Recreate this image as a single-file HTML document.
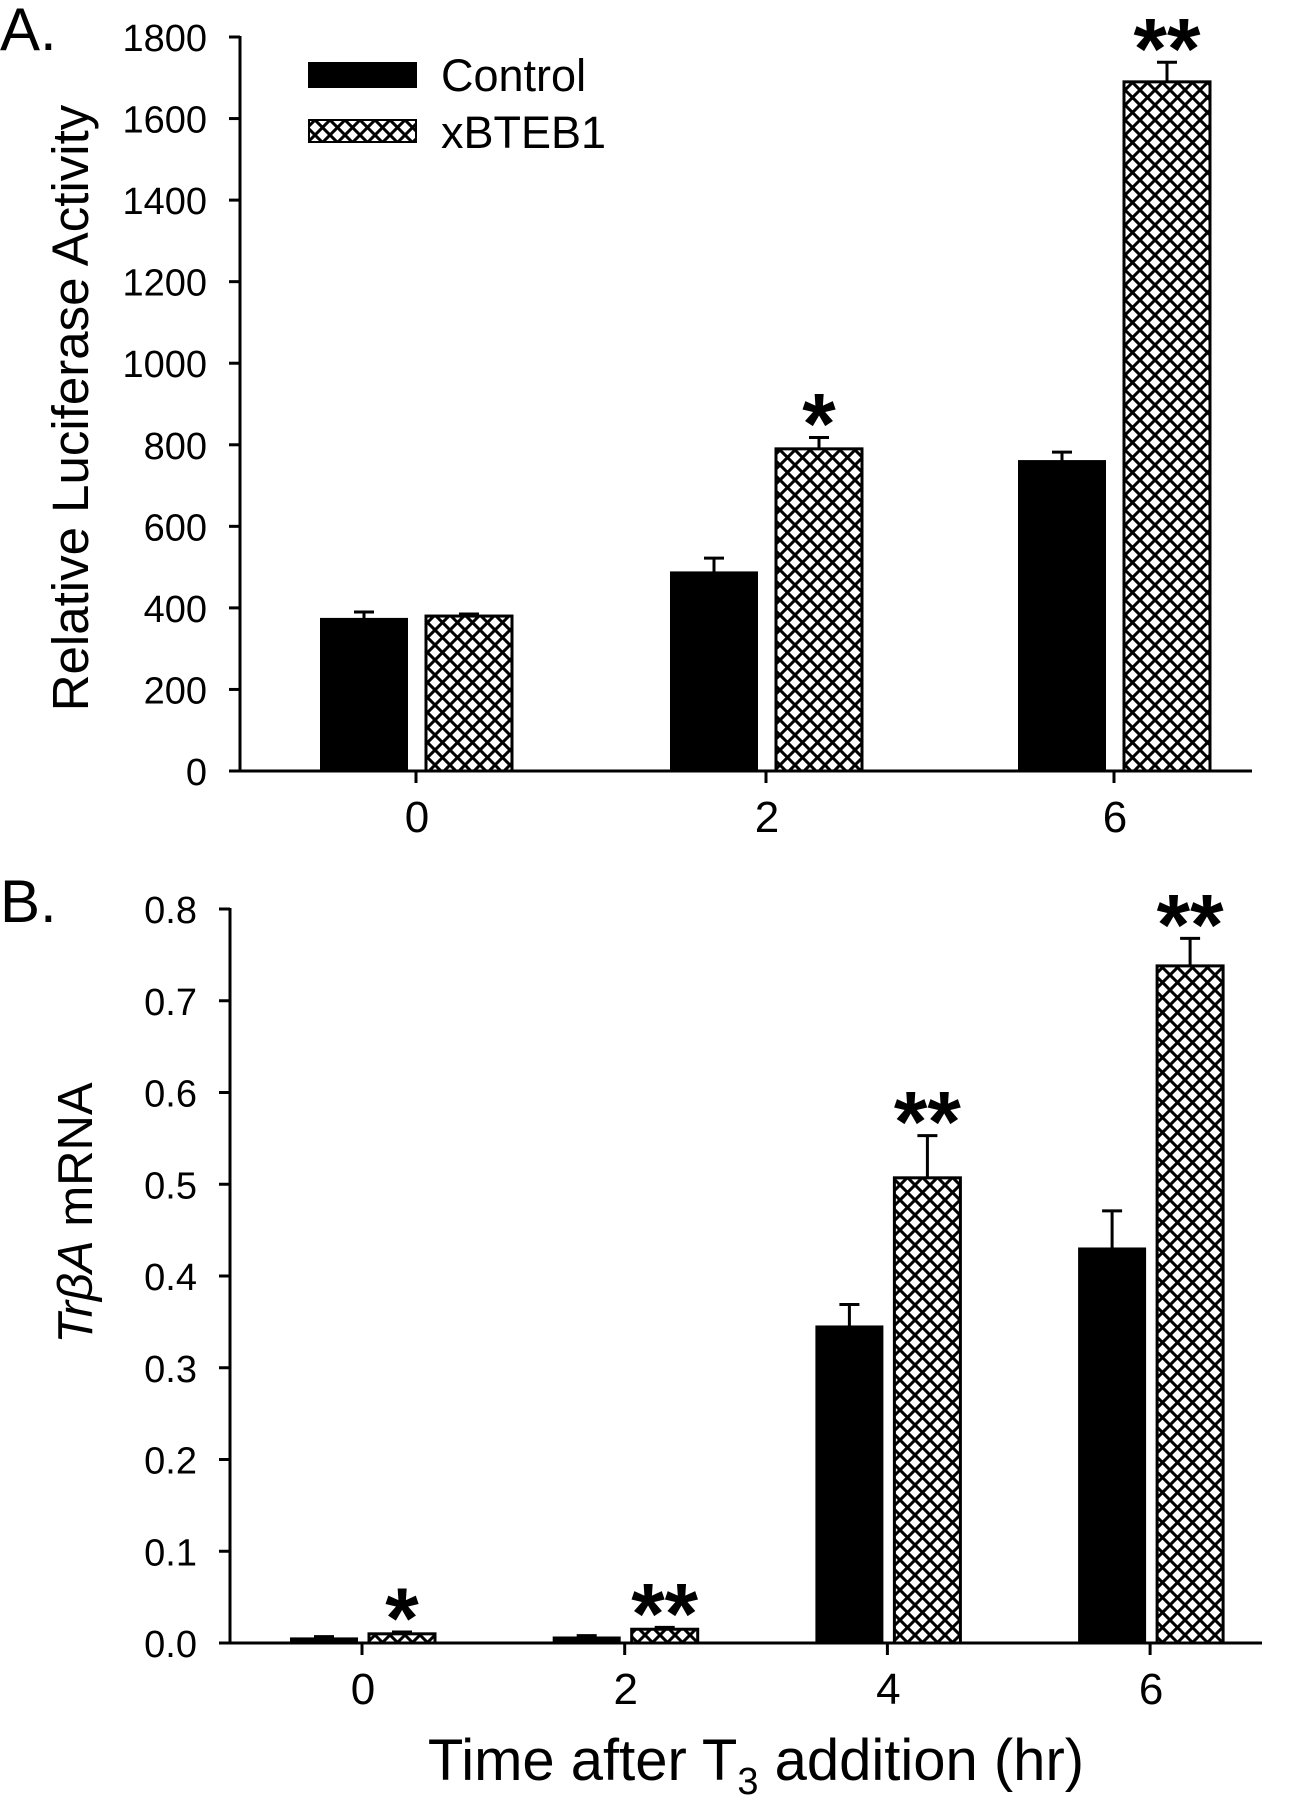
<!DOCTYPE html>
<html><head><meta charset="utf-8"><style>
html,body{margin:0;padding:0;background:#fff;}
svg{display:block;font-family:"Liberation Sans",Arial,sans-serif;}
</style></head><body>
<svg id="chart" width="1293" height="1800" viewBox="0 0 1293 1800" xmlns="http://www.w3.org/2000/svg">
<defs>
<pattern id="hatch" width="15" height="15" patternUnits="userSpaceOnUse">
<rect width="15" height="15" fill="#fff"/>
<path d="M-2,-2 L17,17 M-2,17 L17,-2 M-2,13 L2,17 M13,-2 L17,2 M13,17 L17,13 M-2,2 L2,-2" stroke="#000" stroke-width="3"/>
</pattern>
</defs>
<text x="0" y="50" font-size="60">A.</text>
<text x="0" y="922" font-size="60">B.</text>
<text transform="translate(88,408) rotate(-90)" text-anchor="middle" font-size="51">Relative Luciferase Activity</text>
<text transform="translate(92,1213) rotate(-90)" text-anchor="middle" font-size="49"><tspan font-style="italic">TrβA</tspan> mRNA</text>
<text x="756" y="1780" text-anchor="middle" font-size="58">Time after T<tspan font-size="38" dy="14">3</tspan><tspan dy="-14"> addition (hr)</tspan></text>
<g>
<rect x="309" y="63" width="107" height="24" fill="#000" stroke="#000" stroke-width="2"/>
<text x="441" y="91" font-size="45">Control</text>
<rect x="309" y="120" width="107" height="22" fill="url(#hatch)" stroke="#000" stroke-width="2"/>
<text x="441" y="148" font-size="45">xBTEB1</text>
</g>
<g id="pa"></g><g id="pb"></g>
</svg>
<script>
const aCats = ["0","2","6"];
const aControl = [373, 487, 760];
const aControlErr = [17, 35, 22];
const aX = [380, 790, 1690];
const aXErr = [5, 28, 48];
const aSig = ["", "*", "**"];
const aTicks = [0,200,400,600,800,1000,1200,1400,1600,1800];

const bCats = ["0","2","4","6"];
const bControl = [0.005, 0.006, 0.345, 0.43];
const bControlErr = [0.002, 0.002, 0.024, 0.041];
const bX = [0.01, 0.015, 0.507, 0.738];
const bXErr = [0.002, 0.002, 0.046, 0.03];
const bSig = ["*", "**", "**", "**"];
const bTicks = [0,0.1,0.2,0.3,0.4,0.5,0.6,0.7,0.8];
const bTickLabels = ["0.0","0.1","0.2","0.3","0.4","0.5","0.6","0.7","0.8"];

const NS = "http://www.w3.org/2000/svg";
function mk(parent, tag, attrs, text){
  const e = document.createElementNS(NS, tag);
  for (const k in attrs) e.setAttribute(k, attrs[k]);
  if (text !== undefined) e.textContent = text;
  parent.appendChild(e); return e;
}
function panel(g, cfg){
  const {axX, axEnd, y0, yTop, vmax, cats, ctrl, ctrlErr, xv, xErr, sig, ticks, tickLabels, catX, cOff, xOff, bw, prefix} = cfg;
  const ys = v => y0 - (v / vmax) * (y0 - yTop);
  let l = mk(g, "line", {x1: axX, y1: yTop-1, x2: axX, y2: y0, stroke: "#000", "stroke-width": 3});
  
  
  l = mk(g, "line", {x1: axX-11, y1: y0, x2: axEnd, y2: y0, stroke: "#000", "stroke-width": 3});
  
  
  ticks.forEach((t, i) => {
    const y = ys(t);
    const tk = mk(g, "line", {x1: axX-11, y1: y, x2: axX, y2: y, stroke: "#000", "stroke-width": 3});
    
    
    const tx = mk(g, "text", {x: axX-33, y: y+14, "text-anchor": "end", "font-size": 38}, tickLabels ? tickLabels[i] : String(t));
    
    
  });
  cats.forEach((c, i) => {
    const cx = catX(i);
    const tk = mk(g, "line", {x1: cx, y1: y0, x2: cx, y2: y0+12, stroke: "#000", "stroke-width": 3});
    
    
    const tl = mk(g, "text", {x: cx+1, y: y0+61, "text-anchor": "middle", "font-size": 44}, c);
    
    
    [[ctrl[i], ctrlErr[i], cx+cOff], [xv[i], xErr[i], cx+xOff]].forEach(([v, e, x]) => {
      const mid = x + bw/2, yt = ys(v), ye = ys(v+e);
      const eb = mk(g, "path", {d: `M${mid},${yt} V${ye} M${mid-10},${ye} H${mid+10}`, stroke: "#000", "stroke-width": 3, fill: "none"});
      
      
    });
    const yc = ys(ctrl[i]);
    const b1 = mk(g, "rect", {x: cx+cOff, y: yc, width: bw, height: y0-yc, fill: "#000", stroke: "#000", "stroke-width": 2});
    
    
    const yx = ys(xv[i]);
    const b2 = mk(g, "rect", {x: cx+xOff, y: yx, width: bw, height: y0-yx, fill: "url(#hatch)", stroke: "#000", "stroke-width": 3});
    
    
    if (sig[i]) {
      const st = mk(g, "text", {x: cx+xOff+bw/2, y: ys(xv[i]+xErr[i]) + 16, "text-anchor": "middle", "font-size": 86, "font-weight": "bold"}, sig[i]);
      
      
    }
  });
}
const aPos = [416, 766, 1114];
panel(document.getElementById("pa"), {axX: 240, axEnd: 1252, y0: 771, yTop: 37, vmax: 1800,
  cats: aCats, ctrl: aControl, ctrlErr: aControlErr, xv: aX, xErr: aXErr, sig: aSig, ticks: aTicks,
  catX: i => aPos[i], cOff: -95, xOff: 10, bw: 86, prefix: "panel-a"});
panel(document.getElementById("pb"), {axX: 230, axEnd: 1262, y0: 1643, yTop: 909, vmax: 0.8,
  cats: bCats, ctrl: bControl, ctrlErr: bControlErr, xv: bX, xErr: bXErr, sig: bSig, ticks: bTicks, tickLabels: bTickLabels,
  catX: i => 362 + i*262.7, cOff: -71, xOff: 7, bw: 66, prefix: "panel-b"});
</script>
</body></html>
